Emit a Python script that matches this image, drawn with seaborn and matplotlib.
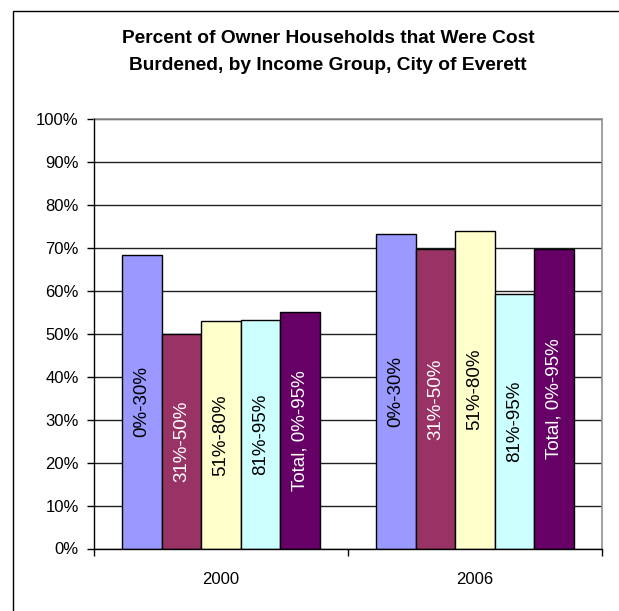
import matplotlib
matplotlib.use("Agg")
import matplotlib.pyplot as plt
import seaborn as sns
import pandas as pd
from matplotlib.patches import Rectangle
from matplotlib.ticker import FixedLocator

years = ["2000", "2006"]
groups = ["0%-30%", "31%-50%", "51%-80%", "81%-95%", "Total, 0%-95%"]
values_2000 = [68.3, 50.0, 52.9, 53.3, 55.0]
values_2006 = [73.3, 69.7, 74.0, 59.4, 69.7]
colors = ["#9999FF", "#993366", "#FFFFCC", "#CCFFFF", "#660066"]
label_colors = ["black", "white", "black", "black", "white"]
yticks = [0, 10, 20, 30, 40, 50, 60, 70, 80, 90, 100]
title = "Percent of Owner Households that Were Cost\nBurdened, by Income Group, City of Everett"

rows = []
for g, v in zip(groups, values_2000):
    rows.append({"year": "2000", "group": g, "value": v})
for g, v in zip(groups, values_2006):
    rows.append({"year": "2006", "group": g, "value": v})
df = pd.DataFrame(rows)

sns.set_theme(style="white")
plt.rcParams["font.family"] = ["Liberation Sans", "DejaVu Sans"]
plt.rcParams["text.color"] = "black"
plt.rcParams["xtick.color"] = "black"
plt.rcParams["ytick.color"] = "black"
plt.rcParams["xtick.labelcolor"] = "black"
plt.rcParams["ytick.labelcolor"] = "black"

fig = plt.figure(figsize=(6.19, 6.11), dpi=100)
fig.patch.set_facecolor("white")
ax = fig.add_axes([94 / 619, (611 - 548.5) / 611, 508 / 619, (548.5 - 119.3) / 611])

sns.barplot(data=df, x="year", y="value", hue="group", order=years, hue_order=groups,
            palette=colors, width=0.78, edgecolor="black", linewidth=1.0,
            saturation=1, legend=False, ax=ax, zorder=3)

ax.set_ylim(0, 100)
ax.set_xlim(-0.5, 1.5)
ax.set_yticks(yticks)
ax.set_yticklabels([f"{t}%" for t in yticks], fontsize=12, color="black")
for lbl in ax.get_xticklabels():
    lbl.set_color("black")
ax.yaxis.grid(True, color="#202020", linewidth=1.0, zorder=0)
ax.set_axisbelow(True)
ax.set_xlabel("")
ax.set_ylabel("")
ax.tick_params(axis="x", which="major", length=0, labelsize=12, pad=17, labelcolor="black")
ax.xaxis.set_minor_locator(FixedLocator([-0.5, 0.5, 1.5]))
ax.tick_params(axis="x", which="minor", length=5, width=1, color="black", bottom=True)
ax.tick_params(axis="y", length=5, width=1, color="black", left=True, pad=6, labelcolor="black")

for side in ["top", "right"]:
    ax.spines[side].set_color("#909090")
    ax.spines[side].set_linewidth(1.2)
for side in ["left", "bottom"]:
    ax.spines[side].set_color("black")
    ax.spines[side].set_linewidth(1.0)
    ax.spines[side].set_zorder(4)

for container, lc, g in zip(ax.containers, label_colors, groups):
    for bar in container:
        h = bar.get_height()
        ax.text(bar.get_x() + bar.get_width() / 2, h / 2, g, rotation=90,
                ha="center", va="center", fontsize=13.5, color=lc, zorder=5)

fig.text(328 / 619, 1 - 52 / 611, title, ha="center", va="center",
         fontsize=13.8, fontweight="bold", linespacing=1.8, color="black")

fig.patches.append(Rectangle((12.5 / 619, -0.1), 1.2, 1 - 11 / 611 + 0.1,
                             transform=fig.transFigure, fill=False,
                             edgecolor="black", linewidth=1.0))

fig.savefig("out.png", dpi=100, facecolor="white")
